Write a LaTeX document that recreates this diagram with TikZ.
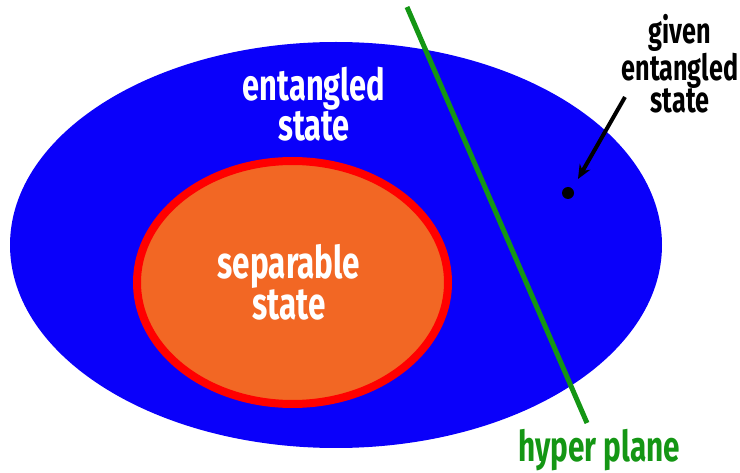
\documentclass[tikz,border=0pt]{standalone}
\usepackage{fontspec}
\setmainfont{Fira Sans}[UprightFont=* Bold, FakeStretch=0.7]
\usetikzlibrary{arrows.meta}
\definecolor{setblue}{RGB}{10,0,250}
\definecolor{seporange}{RGB}{242,103,36}
\definecolor{sepred}{RGB}{255,0,0}
\definecolor{planegreen}{RGB}{20,150,20}
\tikzset{
  label white/.style={text=white, align=center, font=\fontsize{44}{35}\selectfont, inner sep=0pt},
  label sep/.style={text=white, align=center, font=\fontsize{45}{37}\selectfont, inner sep=0pt},
  label black/.style={text=black, align=center, font=\fontsize{36}{31}\selectfont, inner sep=0pt},
  label green/.style={text=planegreen, font=\fontsize{42.5}{35}\selectfont, inner sep=0pt},
}
\begin{document}
\begin{tikzpicture}[x=1pt,y=-1pt]
  \useasboundingbox (0,0) rectangle (740,473);
  % set of all states
  \fill[setblue] (336,245) ellipse [x radius=326, y radius=203];
  % separable states
  \draw[sepred, line width=8, fill=seporange] (292.5,282.5) ellipse [x radius=155.5, y radius=121.5];
  % separating hyperplane
  \draw[planegreen, line width=5] (407,7) coordinate (ptop) -- (587,423) coordinate (pbot);
  % the given state
  \fill[black] (568,193) circle (6) coordinate (dot);
  \node[label white] (ent) at (314,104) {entangled\\state};
  \node[label sep] (sep) at (289,282) {separable\\state};
  \node[label black] (given) at (680,64) {given\\entangled\\state};
  \node[label green] (hp) at (599,450) {hyper plane};
  \coordinate (astart) at (625,97);
  \coordinate (aend) at (578,179);
  \draw[line width=4, -{Stealth[length=14, width=12]}] (astart) -- (aend);
\end{tikzpicture}
\end{document}
